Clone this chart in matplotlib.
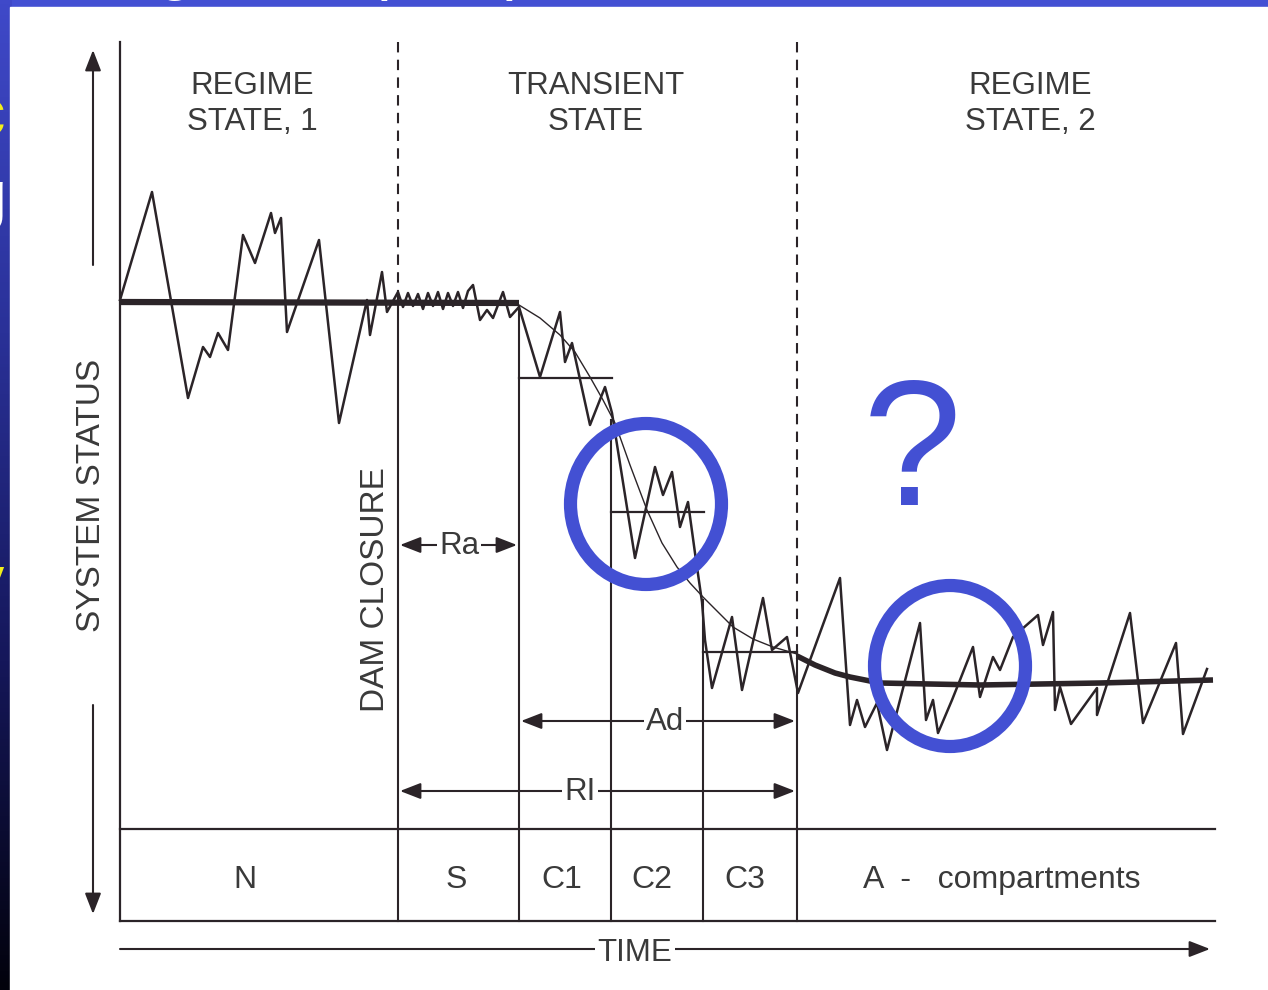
import numpy as np
import matplotlib
matplotlib.use("Agg")
import matplotlib.pyplot as plt
from matplotlib.patches import Rectangle, Ellipse, FancyArrowPatch
from matplotlib.colors import LinearSegmentedColormap

plt.rcParams['font.family'] = ['Liberation Sans', 'DejaVu Sans']

# ---------------- data (time / status in diagram units) ----------------
boundaries = [120, 398, 519, 611, 703, 797, 1215]
compartments = ['N', 'S', 'C1', 'C2', 'C3', 'A  -   compartments']
compartment_x = [245, 456, 562, 652, 745, 1002]
state_labels = ['REGIME\nSTATE, 1', 'TRANSIENT\nSTATE', 'REGIME\nSTATE, 2']
state_x = [252, 596, 1030]

# fluctuating system status (zigzag)
fluct_time = [120, 152, 188, 203, 210, 218, 228, 243, 255, 271, 275, 281, 287, 319,
              339, 367, 370, 382, 387, 398, 403, 408, 413, 418, 423, 428, 433, 438,
              443, 448, 453, 458, 463, 468, 473, 480, 487, 493, 503, 510, 519,
              540, 560, 565, 572, 590, 605, 612, 635, 655, 663, 672, 680, 688, 695,
              702, 705, 712, 732, 742, 763, 772, 787, 798, 840, 850, 857, 865, 877,
              887, 920, 926, 933, 938, 952, 960, 973, 980, 993, 1000, 1013, 1038,
              1043, 1053, 1055, 1060, 1071, 1097, 1097, 1130, 1143, 1176, 1183, 1207]
fluct_status = [300, 192, 398, 347, 357, 333, 350, 235, 263, 213, 233, 218, 332, 240,
                423, 300, 335, 272, 312, 292, 307, 293, 306, 294, 309, 293, 306, 292,
                309, 293, 306, 292, 308, 291, 285, 320, 310, 318, 292, 317, 307,
                377, 312, 362, 343, 425, 387, 413, 558, 467, 495, 472, 527, 502, 553,
                602, 640, 688, 617, 690, 598, 650, 637, 693, 578, 725, 700, 727, 703,
                750, 623, 720, 700, 733, 700, 680, 647, 697, 657, 670, 637, 615,
                645, 612, 710, 687, 724, 688, 715, 613, 723, 643, 734, 669]

# mean trend: regime 1 (thick), transient (thin), regime 2 (thick)
trend1_time = [120, 519]
trend1_status = [302, 303]
trans_time = [519, 540, 560, 575, 590, 603, 615, 630, 647, 662, 677, 690, 703, 718,
              733, 753, 773, 797]
trans_status = [305, 318, 335, 352, 377, 400, 423, 465, 510, 543, 567, 583, 597, 612,
                627, 639, 647, 654]
trend2_time = [797, 815, 835, 850, 880, 980, 1100, 1213]
trend2_status = [656, 665, 673, 677, 683, 685, 683, 680]

# compartment mean levels (C1, C2, C3)
level_start = [519, 611, 703]
level_end = [612, 704, 797]
level_status = [378, 512, 652]
# top of inner boundary lines
bound_top = [301, 307, 420, 600, 652]

LINE = '#2b2428'
TXT = '#3a3a3a'
BLUE = '#4350d3'

fig = plt.figure(figsize=(12.68, 9.9), dpi=100)
ax = fig.add_axes([0, 0, 1, 1])
ax.set_xlim(0, 1268)
ax.set_ylim(990, 0)
ax.axis('off')

# ---------------- slide background ----------------
ax.add_patch(Rectangle((0, 0), 1268, 990, color=BLUE, zorder=0))
cmap = LinearSegmentedColormap.from_list('g', ['#3f49c9', '#2a3198', '#15175a', '#02020c'])
grad = np.linspace(0, 1, 256).reshape(-1, 1)
ax.imshow(grad, cmap=cmap, extent=(0, 12, 990, 0), aspect='auto', zorder=0.5)
# slide text fragments behind the picture (only their edges show)
for ch, yy, col in [('c', 118, '#f2ef1a'), ('g', 200, 'white'), ('l', 345, '#f2ef1a'),
                    ('y', 585, '#f2ef1a')]:
    ax.text(-12, yy, ch, fontsize=48, color=col, ha='center', va='center', zorder=0.8)
for ch, xx in [('g', 175), ('p', 395), ('p', 520)]:
    ax.text(xx, -30, ch, fontsize=48, color='white', ha='center', va='center', zorder=0.8)
ax.add_patch(Rectangle((10, 7), 1258, 983, color='white', zorder=1))

ax.set_xlim(0, 1268)
ax.set_ylim(990, 0)

# ---------------- frame ----------------
ax.plot([120, 120], [42, 921], color=LINE, lw=1.6, zorder=3)
ax.plot([120, 1215], [921, 921], color=LINE, lw=1.6, zorder=3)
ax.plot([120, 1215], [829, 829], color=LINE, lw=1.6, zorder=3)
for b, t in zip(boundaries[1:-1], bound_top):
    ax.plot([b, b], [t, 921], color=LINE, lw=1.5, zorder=3)
for b, t in [(398, 301), (797, 652)]:
    ax.plot([b, b], [42, t], color=LINE, lw=1.5, ls=(0, (5, 3.5)), zorder=3)

# compartment labels
for lab, cx in zip(compartments, compartment_x):
    ax.text(cx, 880, lab, fontsize=23, color=TXT, ha='center', va='center', zorder=4)

for lab, x in zip(state_labels, state_x):
    ax.text(x, 104, lab, fontsize=22.5, color=TXT, ha='center', va='center',
            linespacing=1.3, zorder=4)

# mean levels
for s, e, l in zip(level_start, level_end, level_status):
    ax.plot([s, e], [l, l], color=LINE, lw=1.6, zorder=3)

# trend lines
ax.plot(trend1_time, trend1_status, color=LINE, lw=4.5, solid_capstyle='butt', zorder=4)
ax.plot(trans_time, trans_status, color=LINE, lw=1.0, zorder=4)
ax.plot(trend2_time, trend2_status, color=LINE, lw=4.0, solid_capstyle='butt', zorder=4)

# fluctuations
ax.plot(fluct_time, fluct_status, color=LINE, lw=1.8, zorder=5)

# ---------------- arrows ----------------
def arrow(x0, y0, x1, y1, style='-|>'):
    ax.add_patch(FancyArrowPatch((x0, y0), (x1, y1),
                                 arrowstyle=style + ',head_length=0.9,head_width=0.35',
                                 mutation_scale=14, color=LINE, lw=1.5,
                                 shrinkA=0, shrinkB=0, zorder=4))

arrow(93, 265, 93, 50)
arrow(93, 705, 93, 914)
arrow(400, 545, 517, 545, '<|-|>')
arrow(521, 721, 795, 721, '<|-|>')
arrow(400, 791, 795, 791, '<|-|>')
arrow(120, 949, 1210, 949)

bb = dict(facecolor='white', edgecolor='none', pad=1.5)
ax.text(459, 546, 'Ra', fontsize=22.5, color=TXT, ha='center', va='center', bbox=bb, zorder=6)
ax.text(665, 722, 'Ad', fontsize=22.5, color=TXT, ha='center', va='center', bbox=bb, zorder=6)
ax.text(580, 792, 'RI', fontsize=22.5, color=TXT, ha='center', va='center', bbox=bb, zorder=6)
ax.text(635, 953, 'TIME', fontsize=22.5, color=TXT, ha='center', va='center', bbox=bb, zorder=6)

ax.text(92, 495, 'SYSTEM STATUS', fontsize=24, color=TXT, rotation=90,
        ha='center', va='center', zorder=4)
ax.text(375, 590, 'DAM CLOSURE', fontsize=24, color=TXT, rotation=90,
        ha='center', va='center', zorder=4)

# ---------------- annotations (blue) ----------------
for cx, cy in [(646, 504), (950, 666)]:
    ax.add_patch(Ellipse((cx, cy), 151, 161, fill=False, edgecolor=BLUE, lw=9.5, zorder=7))
ax.text(912, 505, '?', fontsize=128, color=BLUE, ha='center', va='baseline', zorder=7)

fig.savefig('out.png', dpi=100)
